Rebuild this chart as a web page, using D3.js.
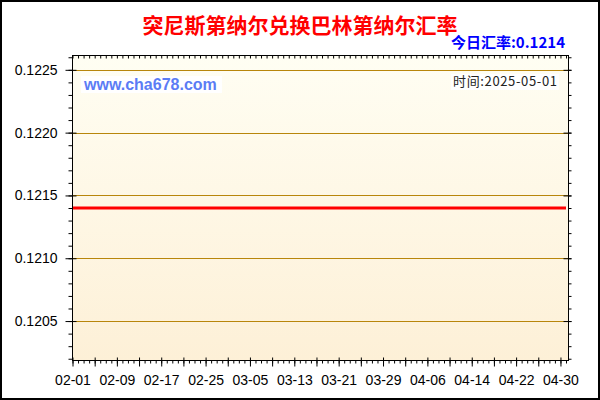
<!DOCTYPE html>
<html>
<head>
<meta charset="utf-8">
<script src="https://cdn.jsdelivr.net/npm/d3@7"></script>
<style>
  body { margin: 0; background: #fff; }
  svg { display: block; }
</style>
</head>
<body>
<div id="chart"></div>
<script>
const title = "突尼斯第纳尔兑换巴林第纳尔汇率";
const todayLabel = "今日汇率:";
const todayRate = "0.1214";
const updateLabel = "时间:2025-05-01";
const siteName = "www.cha678.com";
const startDate = "2025-02-01";

// daily rates, 02-01 .. 05-01
const ratesFeb = [0.1214, 0.1214, 0.1214, 0.1214, 0.1214, 0.1214, 0.1214, 0.1214, 0.1214, 0.1214,
  0.1214, 0.1214, 0.1214, 0.1214, 0.1214, 0.1214, 0.1214, 0.1214, 0.1214, 0.1214,
  0.1214, 0.1214, 0.1214, 0.1214, 0.1214, 0.1214, 0.1214, 0.1214];
const ratesMar = [0.1214, 0.1214, 0.1214, 0.1214, 0.1214, 0.1214, 0.1214, 0.1214, 0.1214, 0.1214,
  0.1214, 0.1214, 0.1214, 0.1214, 0.1214, 0.1214, 0.1214, 0.1214, 0.1214, 0.1214,
  0.1214, 0.1214, 0.1214, 0.1214, 0.1214, 0.1214, 0.1214, 0.1214, 0.1214, 0.1214, 0.1214];
const ratesApr = [0.1214, 0.1214, 0.1214, 0.1214, 0.1214, 0.1214, 0.1214, 0.1214, 0.1214, 0.1214,
  0.1214, 0.1214, 0.1214, 0.1214, 0.1214, 0.1214, 0.1214, 0.1214, 0.1214, 0.1214,
  0.1214, 0.1214, 0.1214, 0.1214, 0.1214, 0.1214, 0.1214, 0.1214, 0.1214, 0.1214];
const ratesMay = [0.1214];

const xTickLabels = ["02-01", "02-09", "02-17", "02-25", "03-05", "03-13",
  "03-21", "03-29", "04-06", "04-14", "04-22", "04-30"];
const yTickLabels = ["0.1205", "0.1210", "0.1215", "0.1220", "0.1225"];

const width = 600;
const height = 400;
const plot = { left: 72.5, right: 568.5, top: 55.5, bottom: 360.5 };
const numFont = "'Liberation Sans', Arial, sans-serif";
const cjkFont = "'Noto Sans CJK SC', 'Liberation Sans', sans-serif";

const rates = ratesFeb.concat(ratesMar, ratesApr, ratesMay);
const start = d3.utcParse("%Y-%m-%d")(startDate);
const data = rates.map((rate, i) => ({ date: d3.utcDay.offset(start, i), rate }));
const days = data.map((d) => d.date);
const parseMD = (s) => d3.utcParse("%Y-%m-%d")("2025-" + s);

const svg = d3.select("#chart").append("svg")
  .attr("width", width)
  .attr("height", height);

// plot background gradient
const grad = svg.append("defs").append("linearGradient")
  .attr("id", "bg").attr("x1", 0).attr("y1", 0).attr("x2", 0).attr("y2", 1);
grad.append("stop").attr("offset", "0%").attr("stop-color", "#fffef3");
grad.append("stop").attr("offset", "100%").attr("stop-color", "#fdf0d7");

svg.append("rect")
  .attr("x", 1).attr("y", 1).attr("width", width - 2).attr("height", height - 2)
  .attr("fill", "#fff").attr("stroke", "#000").attr("stroke-width", 2);

svg.append("rect")
  .attr("x", plot.left).attr("y", plot.top)
  .attr("width", plot.right - plot.left).attr("height", plot.bottom - plot.top)
  .attr("fill", "url(#bg)");

// scales
const xScale = d3.scaleUtc()
  .domain(d3.extent(days))
  .range([plot.left, plot.right - 2.5]);

const yScale = d3.scaleLinear()
  .domain([d3.min(rates) * 0.99, d3.max(rates) * 1.01])
  .range([plot.bottom, plot.top]);

const yMajor = yTickLabels.map(Number);
const yDom = yScale.domain();
const yMinor = d3.range(Math.ceil(yDom[0] * 10000), Math.floor(yDom[1] * 10000) + 1)
  .map((v) => v / 10000);
const xMajor = days.filter((d, i) => i % 4 === 0);
const xLabels = xTickLabels.map(parseMD);

// grid
svg.append("g")
  .selectAll("line")
  .data(yMajor)
  .join("line")
  .attr("x1", plot.left).attr("x2", plot.right)
  .attr("y1", (d) => Math.round(yScale(d)) + 0.5)
  .attr("y2", (d) => Math.round(yScale(d)) + 0.5)
  .attr("stroke", "#b8860b")
  .attr("stroke-width", 1);

// rate line
svg.append("path")
  .datum(data)
  .attr("fill", "none")
  .attr("stroke", "#ff0000")
  .attr("stroke-width", 3)
  .attr("d", d3.line().x((d) => xScale(d.date)).y((d) => yScale(d.rate)));

// frame
svg.append("rect")
  .attr("x", plot.left).attr("y", plot.top)
  .attr("width", plot.right - plot.left).attr("height", plot.bottom - plot.top)
  .attr("fill", "none").attr("stroke", "#000").attr("stroke-width", 1);

const styleAxis = (g) => {
  g.select(".domain").remove();
  g.selectAll("line").attr("stroke", "#000");
  g.attr("font-family", numFont).attr("font-size", 14);
  g.selectAll("text").attr("fill", "#000");
};

// left axis
svg.append("g")
  .attr("transform", `translate(${plot.left},0)`)
  .call(d3.axisLeft(yScale).tickValues(yMinor).tickSize(4).tickFormat(""))
  .call(styleAxis);
svg.append("g")
  .attr("transform", `translate(${plot.left},0)`)
  .call(d3.axisLeft(yScale).tickValues(yMajor).tickSize(7).tickPadding(8)
    .tickFormat((d, i) => yTickLabels[i]))
  .call(styleAxis)
  .call((g) => g.selectAll("line").attr("x1", 4));

// right axis
svg.append("g")
  .attr("transform", `translate(${plot.right},0)`)
  .call(d3.axisRight(yScale).tickValues(yMinor).tickSize(3).tickFormat(""))
  .call(styleAxis);
svg.append("g")
  .attr("transform", `translate(${plot.right},0)`)
  .call(d3.axisRight(yScale).tickValues(yMajor).tickSize(3).tickFormat(""))
  .call(styleAxis)
  .call((g) => g.selectAll("line").attr("x1", -5));

// top axis
svg.append("g")
  .attr("transform", `translate(0,${plot.top})`)
  .call(d3.axisTop(xScale).tickValues(days).tickSize(-3).tickFormat(""))
  .call(styleAxis);

// bottom axis
svg.append("g")
  .attr("transform", `translate(0,${plot.bottom})`)
  .call(d3.axisBottom(xScale).tickValues(days).tickSize(3).tickFormat(""))
  .call(styleAxis);
svg.append("g")
  .attr("transform", `translate(0,${plot.bottom})`)
  .call(d3.axisBottom(xScale).tickValues(xMajor).tickSize(6).tickFormat(""))
  .call(styleAxis)
  .call((g) => g.selectAll("line").attr("y1", -3));
svg.append("g")
  .attr("transform", `translate(0,${plot.bottom})`)
  .call(d3.axisBottom(xScale).tickValues(xLabels).tickSize(0).tickPadding(15)
    .tickFormat((d, i) => xTickLabels[i]))
  .call(styleAxis);

// titles
svg.append("text")
  .attr("x", 300).attr("y", 33)
  .attr("text-anchor", "middle")
  .attr("font-family", cjkFont)
  .attr("font-weight", "bold")
  .attr("font-size", 21)
  .attr("fill", "#ff0000")
  .text(title);

svg.append("text")
  .attr("x", 565).attr("y", 48)
  .attr("text-anchor", "end")
  .attr("font-family", cjkFont)
  .attr("font-weight", "bold")
  .attr("font-size", 15)
  .attr("fill", "#0000ff")
  .text(todayLabel + todayRate);

// watermark and date
svg.append("rect")
  .attr("x", 81).attr("y", 76).attr("width", 141).attr("height", 17)
  .attr("fill", "#fff");
svg.append("text")
  .attr("x", 84).attr("y", 90)
  .attr("font-family", numFont)
  .attr("font-weight", "bold")
  .attr("font-size", 16)
  .attr("fill", "#5b7cf5")
  .text(siteName);

svg.append("rect")
  .attr("x", 451).attr("y", 74).attr("width", 108).attr("height", 16)
  .attr("fill", "#fff");
svg.append("text")
  .attr("x", 453).attr("y", 86)
  .attr("font-family", cjkFont)
  .attr("font-size", 13)
  .attr("fill", "#222")
  .attr("textLength", 104)
  .attr("lengthAdjust", "spacing")
  .text(updateLabel);
</script>
</body>
</html>
